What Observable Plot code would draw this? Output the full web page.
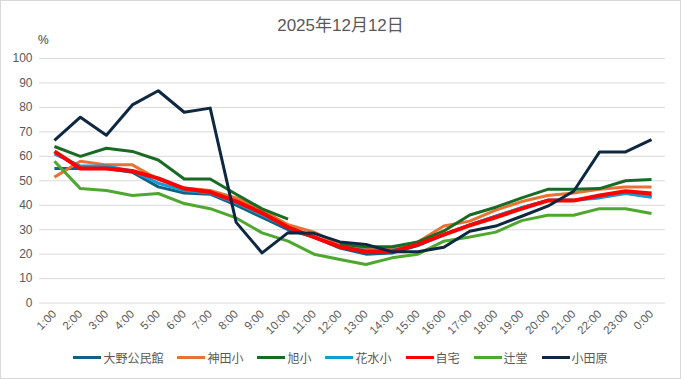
<!DOCTYPE html>
<html>
<head>
<meta charset="utf-8">
<script src="https://cdn.jsdelivr.net/npm/d3@7"></script>
<script src="https://cdn.jsdelivr.net/npm/@observablehq/plot@0.6"></script>
<style>
  html, body { margin: 0; padding: 0; background: #fff; }
  #chart { position: relative; width: 679px; height: 377px; border: 1px solid #d9d9d9; overflow: hidden;
    font-family: "Liberation Sans", "Noto Sans CJK JP", sans-serif; color: #595959; }
  #title { position: absolute; left: 0; top: 10px; width: 679px; text-align: center; font-size: 17px; color: #595959; }
  #pct { position: absolute; left: 37px; top: 32px; font-size: 12px; color: #404040; }
  #plot { position: absolute; left: -1px; top: 29px; }
  #legend { position: absolute; left: 0; top: 348px; width: 679px; display: flex; justify-content: center; gap: 14px; font-size: 12px; color: #595959; }
  .item { display: flex; align-items: center; }
  .sw { width: 28px; height: 3px; margin-right: 2px; }
</style>
</head>
<body>
<div id="chart">
  <div id="title">2025年12月12日</div>
  <div id="pct">%</div>
  <div id="plot"></div>
  <div id="legend"></div>
</div>
<script>
const hours = ["1:00","2:00","3:00","4:00","5:00","6:00","7:00","8:00","9:00","10:00","11:00","12:00",
  "13:00","14:00","15:00","16:00","17:00","18:00","19:00","20:00","21:00","22:00","23:00","0:00"];
const seriesNames = ["大野公民館","神田小","旭小","花水小","自宅","辻堂","小田原"];
const seriesColors = ["#156082","#E97132","#196B24","#0F9ED5","#FF0000","#4EA72E","#0E2841"];
const seriesWidths = [3,3,3,3,4,3,3];
const yTicks = [0,10,20,30,40,50,60,70,80,90,100];

const oono    = [55,55,55,53.5,47.5,45,44.5,40,35,30,27,22.5,20,20.5,23.5,28,32,35.5,39,42,42,43.5,45,43.5];
const kanda   = [51.5,58,56.5,56.5,50.5,47,46,43,38,32,29,24,22,22,25,31.5,33.5,38,41.5,44,45,46.5,47.5,47.5];
const asahi   = [64,60,63.3,62,58.5,50.7,50.7,44.5,38.5,34.3,null,24,23,23,25,29.5,36,39.2,43,46.5,46.5,46.8,50,50.5];
const hanamizu= [61,56,56,54,49,46,45,41,36,31,27,23,21.5,21.5,24,28,32,35.5,39,42,42,43,44.8,43.3];
const jitaku  = [62,55,55,54,51,46.8,45.4,41.6,36.8,31,27,23,21,21,24,28,31.8,35.1,38.6,41.9,41.9,44,45.7,44.8];
const tsujido = [58,46.8,46,44,44.8,40.7,38.6,34.8,28.7,25.3,20,17.8,15.8,18.5,20,25.3,27,29,33.7,35.9,35.9,38.6,38.6,36.6];
const odawara = [66.5,76,68.6,81,86.8,78,79.7,33,20.5,28.8,28.5,25,24,21,21,22.8,29.4,31.5,35.5,39.6,45.7,61.8,61.8,66.8];

const allValues = [oono,kanda,asahi,hanamizu,jitaku,tsujido,odawara];
const data = seriesNames.map((name, s) => hours.map((h, i) => ({series: name, hour: h, value: allValues[s][i]})));

const lines = data.map((rows, s) => Plot.line(rows, {
  x: "hour", y: "value", stroke: seriesColors[s], strokeWidth: seriesWidths[s],
  strokeLinejoin: "round", strokeLinecap: "butt", defined: d => d.value != null
}));

const chart = Plot.plot({
  width: 681, height: 311,
  marginLeft: 39, marginRight: 15, marginTop: 28, marginBottom: 38,
  style: {fontFamily: '"Liberation Sans", "Noto Sans CJK JP", sans-serif', fontSize: "12px", color: "#595959", background: "transparent"},
  x: {type: "point", domain: hours, padding: 0.5, label: null},
  y: {domain: [0, 100], label: null},
  marks: [
    Plot.gridY(yTicks, {stroke: "#d9d9d9", strokeOpacity: 1, strokeWidth: 1}),
    Plot.axisY(yTicks, {tickSize: 0, tickPadding: 7, label: null, fontSize: 12}),
    Plot.axisX(hours, {tickSize: 0, tickPadding: 9, tickRotate: -45, label: null, fontSize: 11.5}),
    ...lines
  ]
});
document.getElementById("plot").appendChild(chart);

const legend = document.getElementById("legend");
seriesNames.forEach((name, s) => {
  const it = document.createElement("div");
  it.className = "item";
  const sw = document.createElement("span");
  sw.className = "sw";
  sw.style.background = seriesColors[s];
  const lb = document.createElement("span");
  lb.textContent = name;
  it.appendChild(sw); it.appendChild(lb);
  legend.appendChild(it);
});
</script>
</body>
</html>
